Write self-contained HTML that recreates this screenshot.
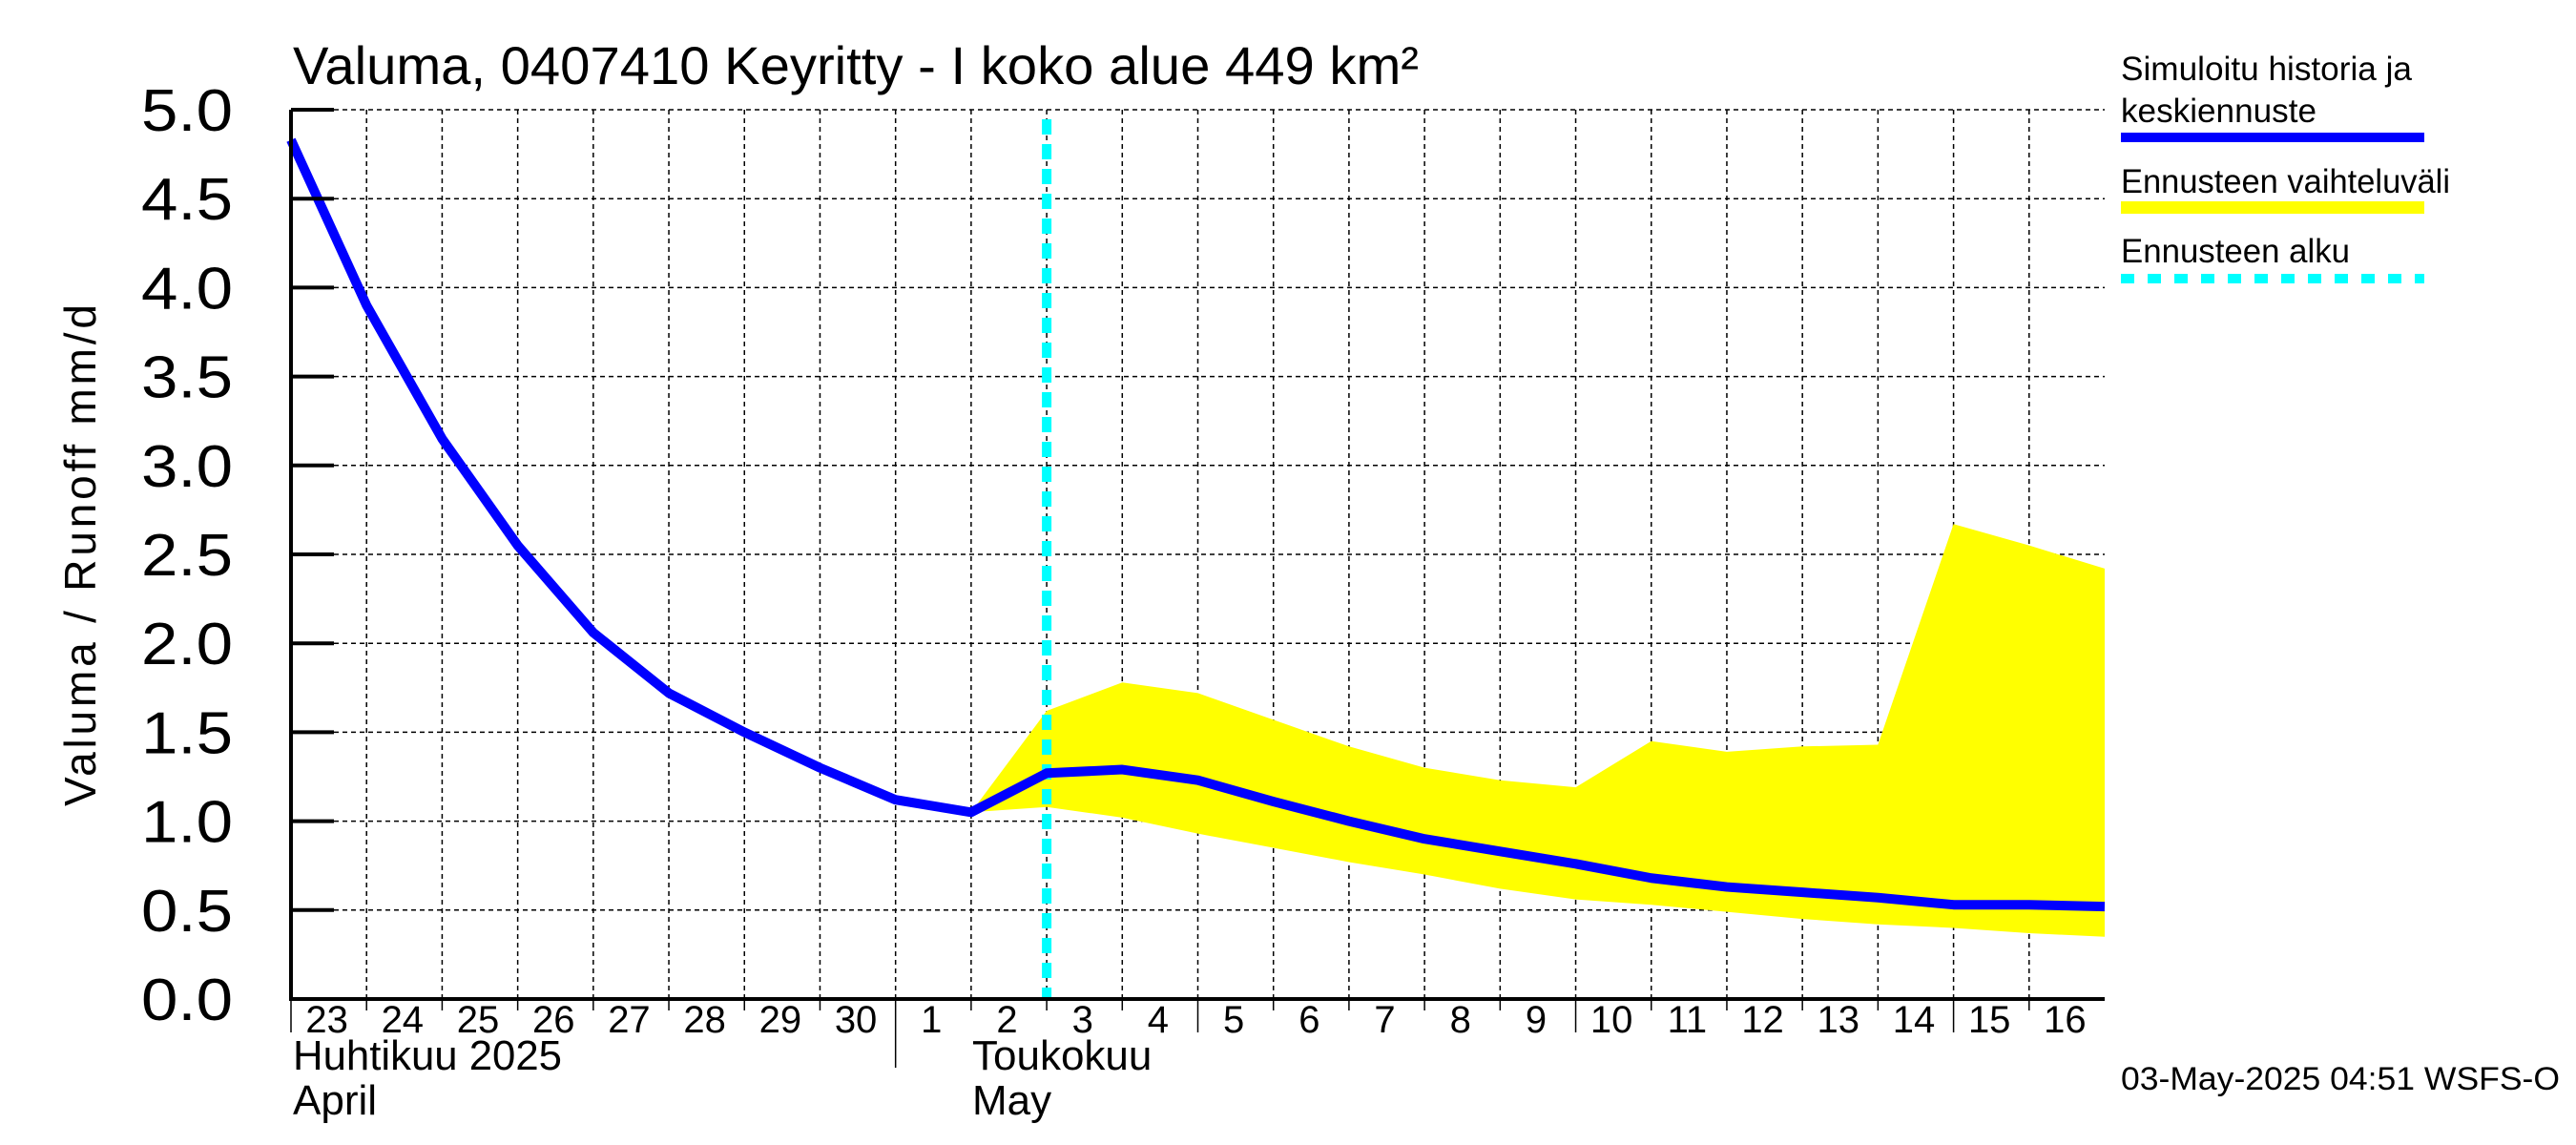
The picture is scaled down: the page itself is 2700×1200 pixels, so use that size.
<!DOCTYPE html>
<html><head><meta charset="utf-8"><style>
html,body{margin:0;padding:0;background:#fff;}
svg{display:block;font-family:"Liberation Sans",sans-serif;}
</style></head><body>
<svg id="chart" width="2700" height="1200" viewBox="0 0 2700 1200" xmlns="http://www.w3.org/2000/svg">
<rect width="2700" height="1200" fill="#fff"/>
<text x="307" y="88" font-size="56" textLength="1180" lengthAdjust="spacingAndGlyphs">Valuma, 0407410 Keyritty - I koko alue 449 km²</text>
<text transform="translate(100,580) rotate(-90)" text-anchor="middle" font-size="46" letter-spacing="4" textLength="530" lengthAdjust="spacing">Valuma / Runoff      mm/d</text>
<g id="grid"></g>
<g id="band"></g>
<g id="lines"></g>
<g id="axes"></g>
<g>
<text x="2223" y="84" font-size="35" textLength="305" lengthAdjust="spacingAndGlyphs">Simuloitu historia ja</text>
<text x="2223" y="128" font-size="35" textLength="205" lengthAdjust="spacingAndGlyphs">keskiennuste</text>
<rect x="2223" y="139" width="318" height="10" fill="#0000ff"/>
<text x="2223" y="202" font-size="35" textLength="345" lengthAdjust="spacingAndGlyphs">Ennusteen vaihteluväli</text>
<rect x="2223" y="211" width="318" height="13" fill="#ffff00"/>
<text x="2223" y="275" font-size="35" textLength="240" lengthAdjust="spacingAndGlyphs">Ennusteen alku</text>
<line x1="2223" y1="292" x2="2541" y2="292" stroke="#00ffff" stroke-width="10" stroke-dasharray="14,14"/>
</g>
<text x="2223" y="1142" font-size="34" textLength="460" lengthAdjust="spacingAndGlyphs">03-May-2025 04:51 WSFS-O</text>
<text x="307" y="1121" font-size="44" textLength="282" lengthAdjust="spacingAndGlyphs">Huhtikuu  2025</text>
<text x="307" y="1168" font-size="44">April</text>
<text x="1019" y="1121" font-size="44">Toukokuu</text>
<text x="1019" y="1168" font-size="44">May</text>
</svg>
<script>
const dayLabels=["23","24","25","26","27","28","29","30","1","2","3","4","5","6","7","8","9","10","11","12","13","14","15","16"];
const yTicks=[0,0.5,1,1.5,2,2.5,3,3.5,4,4.5,5];
const meanValues=[4.83,3.9,3.15,2.55,2.06,1.72,1.5,1.3,1.12,1.05,1.27,1.29,1.23,1.11,1.0,0.9,0.83,0.76,0.68,0.63,0.6,0.57,0.53,0.53,0.52];
const bandStart=9;
const upperValues=[1.05,1.62,1.78,1.72,1.57,1.42,1.3,1.23,1.19,1.45,1.39,1.42,1.43,2.67,2.55,2.42];
const lowerValues=[1.05,1.08,1.02,0.93,0.85,0.77,0.7,0.62,0.56,0.53,0.49,0.45,0.42,0.4,0.37,0.35];
const forecastStart=10;
const NS="http://www.w3.org/2000/svg";
const L=305,R=2206,T=115,B=1047,ND=24;
const x=i=>L+(R-L)*i/ND;
const y=v=>B-(B-T)*v/5;
function mk(tag,parent,attrs){const e=document.createElementNS(NS,tag);for(const k in attrs)e.setAttribute(k,attrs[k]);parent.appendChild(e);return e;}
const grid=document.getElementById('grid'),axes=document.getElementById('axes'),band=document.getElementById('band'),lines=document.getElementById('lines');
yTicks.forEach(v=>{
  if(v>0){const g=mk('line',grid,{x1:L,x2:R,y1:y(v),y2:y(v),stroke:'#000','stroke-width':1.5,'stroke-dasharray':'5,4'});
  
  }
  const t=mk('line',axes,{x1:L,x2:L+45,y1:y(v),y2:y(v),stroke:'#000','stroke-width':4});
  
  
  const lb=mk('text',axes,{x:244,y:y(v)+22,'text-anchor':'end','font-size':62,textLength:96,lengthAdjust:'spacingAndGlyphs'});
  lb.textContent=v.toFixed(1);
  
  
});
dayLabels.forEach((d,i)=>{
  if(i>0){const g=mk('line',grid,{x1:x(i),x2:x(i),y1:T,y2:B,stroke:'#000','stroke-width':1.5,'stroke-dasharray':'5,4'});
  
  }
  const long=(d==="1"||d==="5"||d==="10"||d==="15"||i===0);
  const tk=mk('line',axes,{x1:x(i),x2:x(i),y1:B,y2:B+(d==="1"?72:long?35:12),stroke:'#000','stroke-width':1.5});
  
  
  const lb=mk('text',axes,{x:x(i)+(x(1)-x(0))/2-2,y:1082,'text-anchor':'middle','font-size':40});
  lb.textContent=d;
  
  
});
let pts=upperValues.map((v,k)=>x(bandStart+k)+','+y(v));
pts=pts.concat(lowerValues.map((v,k)=>x(bandStart+k)+','+y(v)).reverse());
const poly=mk('polygon',band,{points:pts.join(' '),fill:'#ffff00'});


const fl=mk('line',lines,{x1:x(forecastStart),x2:x(forecastStart),y1:T+10,y2:B,stroke:'#00ffff','stroke-width':10,'stroke-dasharray':'16,10'});


const ml=mk('polyline',lines,{points:meanValues.map((v,i)=>x(i)+','+y(v)).join(' '),fill:'none',stroke:'#0000ff','stroke-width':10,'stroke-linejoin':'round'});


const ax=mk('path',axes,{d:`M${L},${T} L${L},${B} L${R},${B}`,fill:'none',stroke:'#000','stroke-width':4});


</script>
</body></html>
